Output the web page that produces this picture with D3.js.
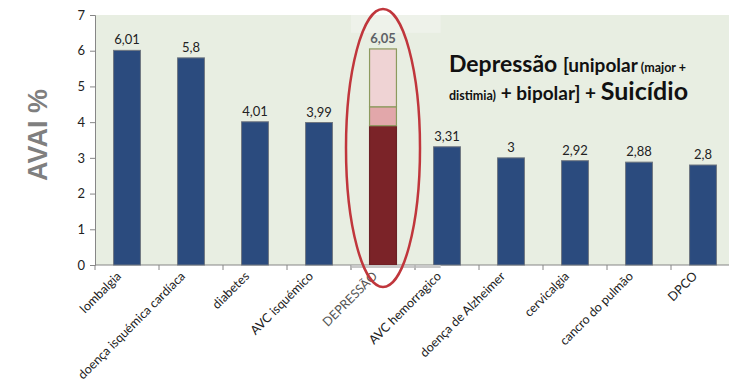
<!DOCTYPE html>
<html><head><meta charset="utf-8">
<script src="https://cdn.jsdelivr.net/npm/d3@7"></script>
<style>body{margin:0;background:#fff}svg{display:block}</style>
</head><body>
<svg id="c" width="729" height="387"></svg>
<script>
const categories = ["lombalgia","doença isquémica cardíaca","diabetes","AVC isquémico","DEPRESSÃO","AVC hemorragico","doença de Alzheimer","cervicalgia","cancro do pulmão","DPCO"];
const values = [6.01,5.8,4.01,3.99,6.05,3.31,3,2.92,2.88,2.8];
const valueLabels = ["6,01","5,8","4,01","3,99","6,05","3,31","3","2,92","2,88","2,8"];
const depressionParts = [3.9,0.53,1.62];
const depressionColors = ["#7b2328","#e2a7aa","#efd3d4"];
const yTicks = [0,1,2,3,4,5,6,7];
const highlight = "DEPRESSÃO";

const svg = d3.select("#c");
const font = "Lato, 'Open Sans', sans-serif";
const x = d3.scaleBand().domain(categories).range([95,735]).paddingInner(0.58).paddingOuter(0.29);
const y = d3.scaleLinear().domain([0,7]).range([265,15]);

// plot background
svg.append("rect").attr("x",95).attr("y",y(7)).attr("width",729-95).attr("height",y(0)-y(7)).attr("fill","#e8eee2");
// highlight overlay (pasted region)
const hx = x(highlight) - x.step()*0.5 + x.bandwidth()/2;
svg.append("rect").attr("x",hx).attr("y",y(7)).attr("width",x.step()*1.4).attr("height",y(6.5)-y(7)).attr("fill","#eef2ea");

// y axis
const yAxis = svg.append("g").attr("transform","translate(95,0)")
  .call(d3.axisLeft(y).tickValues(yTicks).tickSize(5).tickPadding(5).tickFormat(d3.format("d")));
yAxis.select(".domain").attr("stroke","#868686");
yAxis.selectAll(".tick line").attr("stroke","#868686");
yAxis.selectAll("text").attr("font-family",font).attr("font-size",13).attr("fill","#222");

// x axis line + ticks at band boundaries
svg.append("line").attr("x1",95).attr("x2",729).attr("y1",y(0)).attr("y2",y(0)).attr("stroke","#868686");
svg.selectAll(".xt").data(d3.range(categories.length+1)).join("line")
  .attr("x1",i=>95+i*x.step()).attr("x2",i=>95+i*x.step())
  .attr("y1",y(0)).attr("y2",y(0)+5).attr("stroke","#868686");

// regular bars
const reg = categories.map((c,i)=>({c,v:values[i],l:valueLabels[i]}));
svg.selectAll(".bar").data(reg.filter(d=>d.c!==highlight)).join("rect")
  .attr("x",d=>x(d.c)).attr("width",x.bandwidth())
  .attr("y",d=>y(d.v)).attr("height",d=>y(0)-y(d.v))
  .attr("fill","#2b4b7e").attr("stroke","#6f7680").attr("stroke-width",1);

// stacked depression bar
let acc=0;
const stack = depressionParts.map((v,i)=>{const s={y0:acc,y1:acc+v,c:depressionColors[i]};acc+=v;return s;});
svg.selectAll(".seg").data(stack).join("rect")
  .attr("x",x(highlight)).attr("width",x.bandwidth())
  .attr("y",d=>y(d.y1)).attr("height",d=>y(d.y0)-y(d.y1))
  .attr("fill",d=>d.c).attr("stroke",(d,i)=>i===0?"#6b2025":"#8c9a5e").attr("stroke-width",1.2);

// gray strip under axis at highlight
svg.append("rect").attr("x",hx).attr("y",y(0)).attr("width",x.step()*1.4).attr("height",3).attr("fill","#c9c9c9");
svg.selectAll(".xt2").data([categories.indexOf(highlight),categories.indexOf(highlight)+1]).join("line")
  .attr("x1",i=>95+i*x.step()).attr("x2",i=>95+i*x.step())
  .attr("y1",y(0)).attr("y2",y(0)+5).attr("stroke","#aaa");

// value labels
svg.selectAll(".vl").data(reg).join("text")
  .attr("x",d=>x(d.c)+x.bandwidth()/2).attr("y",d=>y(d.v)-6)
  .attr("text-anchor","middle").attr("font-family",font).attr("font-size",13)
  .attr("font-weight",d=>d.c===highlight?"bold":"normal")
  .attr("fill",d=>d.c===highlight?"#5d6066":"#222").text(d=>d.l);

// x labels
svg.selectAll(".xl").data(categories).join("text")
  .attr("transform",d=>`translate(${x(d)+x.bandwidth()/2-5},${y(0)+12}) rotate(-45)`)
  .attr("text-anchor","end").attr("font-family",font).attr("font-size",12.5)
  .attr("fill",d=>d===highlight?"#555":"#222").text(d=>d);

// y title
svg.append("text").attr("transform","translate(47,135) rotate(-90)")
  .attr("text-anchor","middle").attr("font-family","'Liberation Sans', Arial, sans-serif")
  .attr("font-weight","bold").attr("font-size",27).attr("fill","#7f7f7f").text("AVAI %");

// ellipse
svg.append("ellipse").attr("cx",x(highlight)+x.bandwidth()/2).attr("cy",148).attr("rx",37).attr("ry",139)
  .attr("fill","none").attr("stroke","#c0363c").attr("stroke-width",2.5);

// annotation
const ann = svg.append("text").attr("font-family",font).attr("font-weight","bold").attr("fill","#111");
const l1 = ann.append("tspan").attr("x",449).attr("y",72);
l1.append("tspan").attr("font-size",23).text("Depressão ");
l1.append("tspan").attr("font-size",19).text("[unipolar");
l1.append("tspan").attr("font-size",12.5).text(" (major +");
const l2 = ann.append("tspan").attr("x",449).attr("y",100);
l2.append("tspan").attr("font-size",12.5).text("distimia)");
l2.append("tspan").attr("font-size",19).text(" + bipolar] + ");
l2.append("tspan").attr("font-size",25).text("Suicídio");
</script>
</body></html>
